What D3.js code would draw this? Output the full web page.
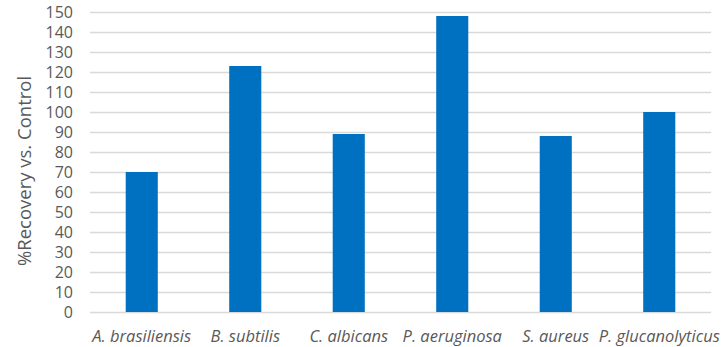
<!DOCTYPE html>
<html>
<head>
<meta charset="utf-8">
<script src="https://cdn.jsdelivr.net/npm/d3@7"></script>
<style>
  body { margin: 0; background: #fff; }
  text { font-family: "Open Sans", "Liberation Sans", sans-serif; fill: #595959; }
</style>
</head>
<body>
<div id="container"></div>
<script>
//DATA
const organisms = ["A. brasiliensis", "B. subtilis", "C. albicans", "P. aeruginosa", "S. aureus", "P. glucanolyticus"];
const recovery = [70, 123, 89, 148, 88, 100];
const yTicks = d3.range(0, 151, 10);

//CONSTANTS
const width = 728,
    height = 347,
    margin = {top: 12, bottom: 35, left: 90, right: 17};

const svg = d3.select("#container")
  .append("svg")
  .attr("width", width)
  .attr("height", height)

//SCALES
const xScale = d3.scaleBand()
  .domain(organisms)
  .range([margin.left, width - margin.right])
  .paddingInner(0.69)
  .paddingOuter(0.345)

const yScale = d3.scaleLinear()
  .domain([0, 150])
  .range([height - margin.bottom, margin.top])

// gridlines
const yAxis = d3.axisLeft(yScale)
  .tickValues(yTicks)
  .tickSize(-(width - margin.left - margin.right))
  .tickPadding(17)

const yAxisGroup = svg.append("g")
  .attr("class", "yAxis")
  .attr("transform", `translate(${margin.left}, 0)`)
  .call(yAxis)

yAxisGroup.select(".domain").remove()
yAxisGroup.selectAll("line").attr("stroke", "#d9d9d9").attr("stroke-width", 1.3)
yAxisGroup.selectAll("text").style("font-size", "16px").attr("fill", "#595959")

// bars
svg.selectAll("rect.bar")
  .data(organisms)
  .join("rect")
  .attr("class", "bar")
  .attr("x", d => xScale(d))
  .attr("width", xScale.bandwidth())
  .attr("y", (d, i) => yScale(recovery[i]))
  .attr("height", (d, i) => yScale(0) - yScale(recovery[i]))
  .attr("fill", "#0070c0")

// x labels
const xAxis = d3.axisBottom(xScale).tickSize(0).tickPadding(18)
const xAxisGroup = svg.append("g")
  .attr("class", "xAxis")
  .attr("transform", `translate(0, ${height - margin.bottom})`)
  .call(xAxis)

xAxisGroup.select(".domain").remove()
xAxisGroup.selectAll("text")
  .style("font-size", "16.5px")
  .style("font-style", "italic")
  .attr("fill", "#595959")

// y title
svg.append("text")
  .attr("transform", `translate(31, 171) rotate(-90)`)
  .attr("text-anchor", "middle")
  .style("font-size", "18.5px")
  .text("%Recovery vs. Control")
</script>
</body>
</html>
